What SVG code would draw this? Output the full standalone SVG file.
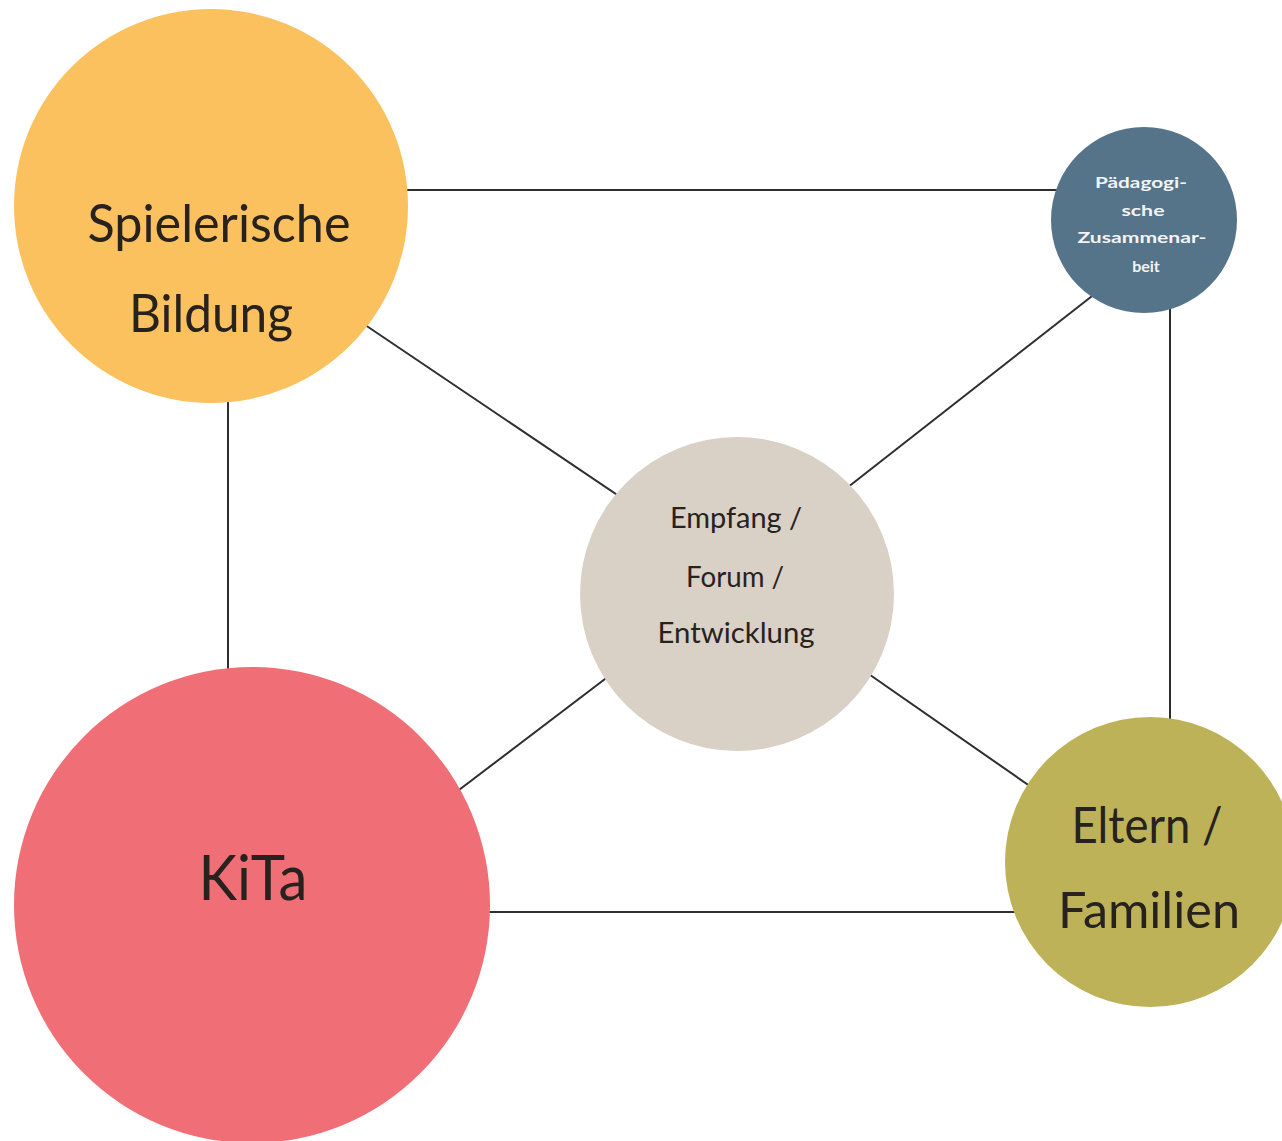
<svg xmlns="http://www.w3.org/2000/svg" width="1282" height="1141" viewBox="0 0 1282 1141">
<style>
.edge{stroke:#2e2e2e;stroke-width:2;fill:none}
.lbl{font-family:Lato,"Liberation Sans",sans-serif;fill:#28221f;text-anchor:middle}
.wlbl{font-family:Lato,"Liberation Sans",sans-serif;fill:#f2f4f6;text-anchor:middle;font-weight:bold}
</style>
<rect width="1282" height="1141" fill="#ffffff"/>
<g id="connectors">
<line class="edge" x1="380" y1="190" x2="1080" y2="190"/>
<line class="edge" x1="228" y1="380" x2="228" y2="700"/>
<line class="edge" x1="1170" y1="290" x2="1170" y2="740"/>
<line class="edge" x1="460" y1="912" x2="1040" y2="912"/>
<line class="edge" x1="340" y1="308" x2="650" y2="517"/>
<line class="edge" x1="820" y1="509" x2="1110" y2="282"/>
<line class="edge" x1="430" y1="812" x2="630" y2="660"/>
<line class="edge" x1="850" y1="661" x2="1060" y2="807"/>
</g>
<g id="spielerische">
<circle cx="211" cy="206" r="197" fill="#fbc15e"/>
<text class="lbl" x="219" y="242" font-size="52" textLength="263" lengthAdjust="spacingAndGlyphs">Spielerische</text>
<text class="lbl" x="211" y="332" font-size="52" textLength="164" lengthAdjust="spacingAndGlyphs">Bildung</text>
</g>
<g id="paedagogische">
<circle cx="1144" cy="220" r="93" fill="#557389"/>
<text class="wlbl" x="1141" y="188" font-size="16" textLength="92" lengthAdjust="spacingAndGlyphs">Pädagogi-</text>
<text class="wlbl" x="1143" y="216" font-size="16" textLength="43" lengthAdjust="spacingAndGlyphs">sche</text>
<text class="wlbl" x="1142" y="243" font-size="16" textLength="129" lengthAdjust="spacingAndGlyphs">Zusammenar-</text>
<text class="wlbl" x="1146" y="272" font-size="16">beit</text>
</g>
<g id="empfang">
<circle cx="737" cy="594" r="157" fill="#d9d0c6"/>
<text class="lbl" x="736" y="528" font-size="28" textLength="132" lengthAdjust="spacingAndGlyphs">Empfang /</text>
<text class="lbl" x="735" y="587" font-size="28" textLength="98" lengthAdjust="spacingAndGlyphs">Forum /</text>
<text class="lbl" x="736" y="643" font-size="28" textLength="157" lengthAdjust="spacingAndGlyphs">Entwicklung</text>
</g>
<g id="kita">
<circle cx="252" cy="905" r="238" fill="#f06e76"/>
<text class="lbl" x="253" y="900" font-size="62" textLength="109" lengthAdjust="spacingAndGlyphs">KiTa</text>
</g>
<g id="eltern">
<circle cx="1150" cy="862" r="145" fill="#bdb257"/>
<text class="lbl" x="1147" y="843" font-size="50" textLength="151" lengthAdjust="spacingAndGlyphs">Eltern /</text>
<text class="lbl" x="1149" y="928" font-size="50" textLength="182" lengthAdjust="spacingAndGlyphs">Familien</text>
</g>
</svg>
